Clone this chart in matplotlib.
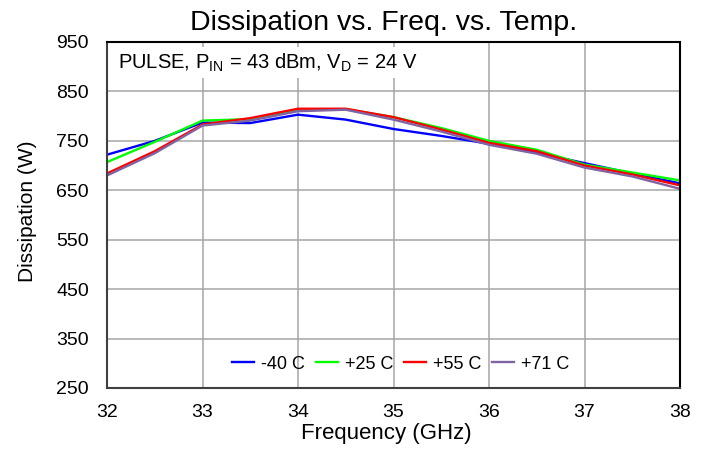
import matplotlib

matplotlib.use("Agg")
import matplotlib.pyplot as plt

plt.rcParams["font.family"] = ["Liberation Sans", "DejaVu Sans"]

freq_ghz = [32, 32.5, 33, 33.5, 34, 34.5, 35, 35.5, 36, 36.5, 37, 37.5, 38]
diss_m40 = [722, 750, 787, 786, 803, 793, 774, 760, 744, 726, 705, 684, 664]
diss_p25 = [707, 748, 791, 794, 813, 814, 798, 776, 750, 732, 702, 686, 670]
diss_p55 = [684, 729, 783, 796, 815, 815, 798, 773, 746, 729, 700, 682, 660]
diss_p71 = [680, 725, 781, 791, 810, 813, 793, 769, 742, 724, 696, 678, 653]

series = [
    ("-40 C", diss_m40, "#0000ff"),
    ("+25 C", diss_p25, "#00ff00"),
    ("+55 C", diss_p55, "#ff0000"),
    ("+71 C", diss_p71, "#8064a2"),
]

fig = plt.figure(figsize=(7.07, 4.54), dpi=100)
ax = fig.add_axes([107 / 707, 1 - 388 / 454, (680 - 107) / 707, (388 - 42) / 454])

for label, vals, color in series:
    ax.plot(freq_ghz, vals, color=color, linewidth=1.7, label=label)

ax.set_xlim(32, 38)
ax.set_ylim(250, 950)
ax.set_xticks(range(32, 39))
ax.set_yticks(range(250, 951, 100))
ax.grid(True, color="#a6a6a6", linewidth=1.1)
ax.set_axisbelow(True)
ax.tick_params(length=0, labelsize=14, pad=13)
ax.tick_params(axis="x", pad=11.5)

for side in ["left", "bottom"]:
    ax.spines[side].set_color("#404040")
    ax.spines[side].set_linewidth(1.5)
for side in ["top", "right"]:
    ax.spines[side].set_color("black")
    ax.spines[side].set_linewidth(1.5)

ax.set_title("Dissipation vs. Freq. vs. Temp.", fontsize=20.5, pad=8.6, x=0.483)
ax.set_xlabel("Frequency (GHz)", fontsize=16)
ax.xaxis.set_label_coords(0.488, -0.1)
ax.set_ylabel("Dissipation (W)", fontsize=15)
ax.yaxis.set_label_coords(-0.122, 0.512)

ax.text(
    0.019,
    0.924,
    "PULSE, P$_{\\mathregular{IN}}$ = 43 dBm, V$_{\\mathregular{D}}$ = 24 V",
    transform=ax.transAxes,
    fontsize=14.5,
    va="baseline",
    ha="left",
    bbox=dict(facecolor="white", edgecolor="none", pad=3),
)

ax.legend(
    loc="center",
    bbox_to_anchor=(0.513, 0.069),
    ncol=4,
    frameon=False,
    fontsize=13,
    handlelength=1.2,
    columnspacing=0.6,
    handletextpad=0.4,
    borderpad=0,
)

fig.savefig("out.png", dpi=100)
